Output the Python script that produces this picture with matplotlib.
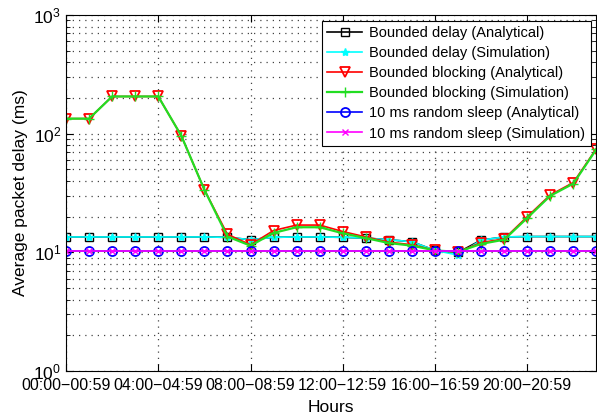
import numpy as np
import matplotlib
matplotlib.use('Agg')
import matplotlib.pyplot as plt
from matplotlib.ticker import LogLocator, NullFormatter

plt.rcParams['font.family'] = ['Liberation Sans', 'DejaVu Sans']

hours = np.arange(24)
tick_pos = [0, 4, 8, 12, 16, 20]
tick_labels = ['00:00\u221200:59', '04:00\u221204:59', '08:00\u221208:59',
               '12:00\u221212:59', '16:00\u221216:59', '20:00\u221220:59']

delay_ana = [13.5, 13.5, 13.5, 13.5, 13.5, 13.5, 13.5, 13.4, 12.8, 13.4, 13.5, 13.5,
             13.4, 13.2, 12.8, 12.3, 10.4, 10.0, 12.7, 13.5, 13.6, 13.6, 13.6, 13.6]
delay_sim = [13.5, 13.5, 13.5, 13.5, 13.5, 13.5, 13.5, 13.4, 12.8, 13.4, 13.5, 13.5,
             13.4, 13.2, 12.8, 12.3, 10.4, 9.5, 12.7, 13.5, 13.6, 13.6, 13.6, 13.6]
block_ana = [134, 134, 206, 206, 206, 96, 33.7, 14.2, 11.6, 15.3, 17.0, 17.0,
             15.0, 13.5, 12.2, 11.6, 10.4, 10.1, 12.1, 13.0, 20.0, 30.5, 38.8, 75]
block_sim = [134, 134, 206, 206, 206, 96, 33.7, 13.6, 11.4, 14.6, 16.3, 16.3,
             14.5, 13.2, 12.0, 11.4, 10.4, 10.1, 11.8, 12.8, 19.5, 30.0, 38.0, 74]
sleep_ana = [10.3] * 24
sleep_sim = [10.3] * 24

fig = plt.figure(figsize=(5.97, 4.17), dpi=100)
ax = fig.add_axes([0.1106, 0.110, 0.8884, 0.854])

ax.plot(hours, delay_ana, '-s', color='black', mfc='none', ms=5.5, lw=1.2,
        label='Bounded delay (Analytical)')
ax.plot(hours, delay_sim, '-*', color='cyan', ms=6, lw=1.2,
        label='Bounded delay (Simulation)')
ax.plot(hours, block_ana, '-v', color='red', mfc='none', ms=7, mew=1.3, lw=1.2,
        label='Bounded blocking (Analytical)')
ax.plot(hours, block_sim, '-+', color='#22dd22', ms=7, lw=1.6,
        label='Bounded blocking (Simulation)')
ax.plot(hours, sleep_ana, '-o', color='blue', mfc='none', ms=6.5, mew=1.3, lw=1.2,
        label='10 ms random sleep (Analytical)')
ax.plot(hours, sleep_sim, '-x', color='magenta', ms=5, lw=1.2,
        label='10 ms random sleep (Simulation)')

ax.set_yscale('log')
ax.set_ylim(1, 1000)
ax.set_xlim(0, 23)
ax.set_xticks(tick_pos)
ax.set_xticklabels(tick_labels, fontsize=11.5)
ax.yaxis.set_minor_locator(LogLocator(base=10, subs=np.arange(2, 10)))
ax.yaxis.set_minor_formatter(NullFormatter())
ax.tick_params(axis='both', which='both', direction='in', top=True, right=True)
ax.tick_params(axis='y', labelsize=12.5)
ax.tick_params(axis='x', pad=5)
ax.tick_params(which='major', length=5)
ax.tick_params(which='minor', length=3)
ax.grid(True, which='major', linestyle=(0, (1, 4)), color='#444444', lw=0.9)
ax.grid(True, which='minor', axis='y', linestyle=(0, (1, 4)), color='#444444', lw=0.9)

ax.set_xlabel('Hours', fontsize=12.5, labelpad=5)
ax.set_ylabel('Average packet delay (ms)', fontsize=12.5)

leg = ax.legend(loc='upper right', fontsize=10.5, fancybox=False, framealpha=1,
                edgecolor='black', borderaxespad=0.4, handlelength=2.4,
                labelspacing=0.42, borderpad=0.35, handletextpad=0.5)
leg.get_frame().set_linewidth(0.8)

fig.savefig('out.png', dpi=100)
